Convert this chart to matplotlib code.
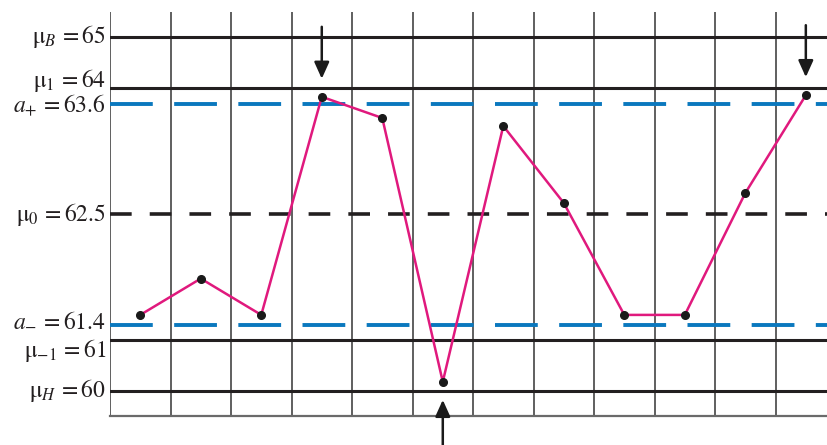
import numpy as np
import matplotlib
matplotlib.use("Agg")
import matplotlib.pyplot as plt

plt.rcParams["mathtext.fontset"] = "stix"
plt.rcParams["font.family"] = "STIXGeneral"

# Levels of the sequential test (values and labels)
level_values = [65, 64, 63.6, 62.5, 61.4, 61, 60]
level_labels = [
    r"$\mathrm{\mu}_{B}\, = 65$",
    r"$\mathrm{\mu}_{1}\, = 64$",
    r"$a_{+}\, = 63.6$",
    r"$\mathrm{\mu}_{0}\, = 62.5$",
    r"$a_{-}\, = 61.4$",
    r"$\mathrm{\mu}_{-1}\, = 61$",
    r"$\mathrm{\mu}_{H}\, = 60$",
]

# Observed sample means, one per interval
sample_index = np.arange(12)
sample_means = [61.5, 61.86, 61.5, 63.78, 63.46, 60.18, 63.38, 62.61, 61.5, 61.5, 62.71, 63.82]
flagged = [3, 5, 11]  # samples crossing the action lines

# Schematic (non-linear) vertical scale as in the original drawing
scale_vals = [50.0, 59.5, 60, 61, 61.4, 62.5, 63.6, 64, 65, 65.5, 75.0]
scale_pos = [-475.0, 0, 25, 76, 91, 202, 312, 328, 379, 404, 879.0]


def fwd(v):
    return np.interp(v, scale_vals, scale_pos)


def inv(p):
    return np.interp(p, scale_pos, scale_vals)


fig = plt.figure(figsize=(8.27, 4.45), dpi=100)
ax = fig.add_axes([110 / 827, 29 / 445, 717 / 827, 404 / 445])
ax.set_yscale("function", functions=(fwd, inv))
ax.set_ylim(59.5, 65.5)
ax.set_xlim(0, 11.85)

# vertical grid
for xv in range(12):
    ax.axvline(xv, color="#5f5f5f", lw=1.4, zorder=1)

# horizontal levels
ax.axhline(65, color="#231f20", lw=2.2, zorder=2)
ax.axhline(64, color="#231f20", lw=2.2, zorder=2)
ax.axhline(61, color="#231f20", lw=2.2, zorder=2)
ax.axhline(60, color="#231f20", lw=2.2, zorder=2)
ax.axhline(63.6, color="#0a78be", lw=2.8, dashes=(11, 5.5), zorder=2)
ax.axhline(61.4, color="#0a78be", lw=2.8, dashes=(11, 5.5), zorder=2)
ax.axhline(62.5, color="#231f20", lw=2.6, dashes=(6, 5), zorder=2)

# sample means
xs = sample_index + 0.5
ax.plot(xs, sample_means, color="#e0197d", lw=1.8, zorder=3)
ax.plot(xs, sample_means, "o", color="#1a1a1a", ms=5.5, zorder=4)

# arrows at the flagged samples
for i in flagged:
    up = sample_means[i] < 62.5
    ax.annotate(
        "",
        xy=(xs[i], sample_means[i]),
        xytext=(0, -64 if up else 70),
        textcoords="offset pixels",
        arrowprops=dict(arrowstyle="-|>,head_length=1.0,head_width=0.45",
                        color="#1a1a1a", lw=1.8, shrinkA=0, shrinkB=13),
        annotation_clip=False,
    )

# level labels on the left
label_offsets = [0, 8, -1, 0, 5, -11, 1]
for val, lab, off in zip(level_values, level_labels, label_offsets):
    ax.annotate(lab, xy=(0, val), xycoords=("axes fraction", "data"),
                xytext=(-4, off), textcoords="offset pixels",
                ha="right", va="center", fontsize=17, color="#231f20",
                annotation_clip=False)

for s in ["top", "right", "left"]:
    ax.spines[s].set_visible(False)
ax.spines["bottom"].set_color("#6a6a6a")
ax.spines["bottom"].set_linewidth(1.6)
ax.set_xticks([])
ax.set_yticks([])
ax.minorticks_off()

fig.savefig("out.png", dpi=100)
